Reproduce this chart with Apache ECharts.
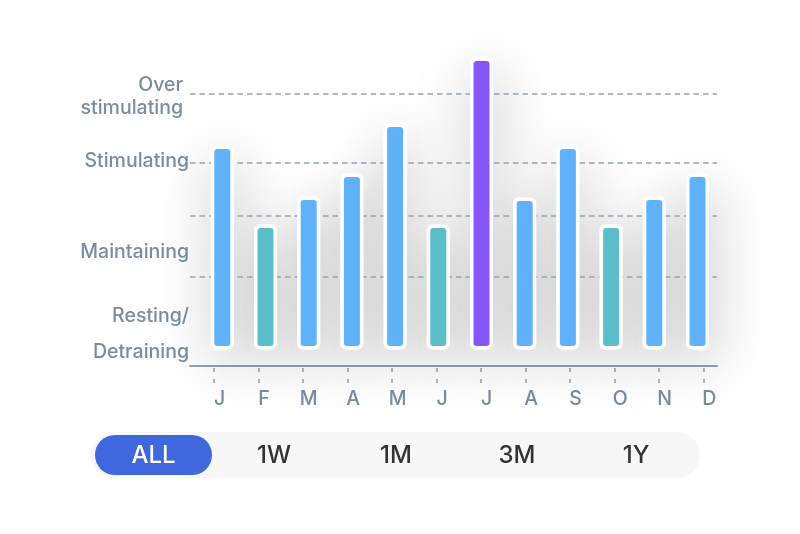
<!DOCTYPE html>
<html>
<head>
<meta charset="utf-8">
<script src="https://cdn.jsdelivr.net/npm/echarts@6/dist/echarts.min.js"></script>
<style>
html,body{margin:0;padding:0;background:#fff;}
#chart{width:800px;height:534px;}
</style>
</head>
<body>
<div id="chart"></div>
<script>
// ---- data ----
var months = ['J','F','M','A','M','J','J','A','S','O','N','D'];
var loadValues = [204, 125, 153, 176, 226, 125, 292, 152, 204, 125, 153, 176];
var levelLines = [255.5, 186.5, 133.5, 72.5];
var levelLabelTexts = ['Over', 'stimulating', 'Stimulating', 'Maintaining', 'Resting/', 'Detraining'];
var levelLabelValues = [264.5, 241.5, 188.5, 97.5, 33, -2.5];
var rangeLabels = ['ALL', '1W', '1M', '3M', '1Y'];

// ---- style ----
var FONT = 'Inter, "Noto Sans", sans-serif';
var TEXT = '#7B8CA2';
var LINE = '#93A4B2';
var BLUE = '#5FB2FA', TEAL = '#5ABFC9', PURPLE = '#8755F5';

function barColor(v){
  if (v > levelLines[0]) return PURPLE;
  if (v < levelLines[2]) return TEAL;
  return BLUE;
}

var chart = echarts.init(document.getElementById('chart'));
var yMin = -16.5, yMax = 301.5;

var rangeX = [153.5, 274, 396, 517, 636];
var graphics = [
  {type:'rect', shape:{x:91, y:432, width:609, height:46, r:23}, style:{fill:'#F7F7F7'}, z:-1},
  {type:'rect', shape:{x:95, y:435, width:117, height:40, r:20}, style:{fill:'#3F68DF'}, z:0}
];
rangeLabels.forEach(function(t, i){
  graphics.push({type:'text', x:rangeX[i], y:456, z:1,
    style:{text:t, fill: i===0 ? '#FFFFFF' : '#333333', font:'500 24px ' + FONT, align:'center', verticalAlign:'middle'}});
});

var option = {
  backgroundColor:'#ffffff',
  animation:false,
  grid:[
    {left:190, right:83, top:48, bottom:168},
    {left:200.7, right:80.9, top:48, bottom:168},
    {left:191.74, right:74.02, top:48, bottom:168}
  ],
  xAxis:[
    {gridIndex:0, type:'category', data:months, axisLine:{show:true, onZero:false, lineStyle:{color:LINE, width:2}},
     axisTick:{show:false}, axisLabel:{show:false}},
    {gridIndex:1, type:'category', data:months, show:false},
    {gridIndex:2, type:'category', data:months, axisLine:{show:false, onZero:false},
     axisTick:{show:true, alignWithLabel:true, length:17, lineStyle:{color:LINE, width:1.5, type:[4,7], dashOffset:9}},
     axisLabel:{show:true, color:TEXT, fontSize:19.5, fontWeight:500, fontFamily:FONT, margin:23, padding:[0,0,0,11]}}
  ],
  yAxis:[
    {gridIndex:0, type:'value', min:yMin, max:yMax, axisLine:{show:false}, axisTick:{show:false}, splitLine:{show:false},
     axisLabel:{show:true, customValues:levelLabelValues, margin:1, color:TEXT, fontSize:19.5, fontWeight:500, fontFamily:FONT,
       formatter:function(v){
         var idx = 0, best = 1e9;
         levelLabelValues.forEach(function(x, i){ var d = Math.abs(x - v); if (d < best){best = d; idx = i;} });
         var t = levelLabelTexts[idx];
         return idx < 2 ? '{s|' + t + '}' : t;
       },
       rich:{s:{color:TEXT, fontSize:19.5, fontWeight:500, fontFamily:FONT, padding:[0,6,0,0]}}
     }},
    {gridIndex:1, type:'value', min:yMin, max:yMax, show:false},
    {gridIndex:2, type:'value', min:yMin, max:yMax, show:false}
  ],
  series:[
    {type:'line', xAxisIndex:0, yAxisIndex:0, data:[], z:1, silent:true,
     markLine:{symbol:'none', silent:true, label:{show:false},
       lineStyle:{color:LINE, width:1.6, type:[5.5,4]},
       data: levelLines.map(function(v){ return {yAxis:v}; })}},
    // soft shadow layer drawn beneath the bars
    {type:'bar', xAxisIndex:1, yAxisIndex:1, z:3, barWidth:23, barGap:'-100%', silent:true,
     data: loadValues,
     itemStyle:{color:'#ffffff', borderRadius:5,
       shadowBlur:55, shadowColor:'rgba(0,0,0,0.28)', shadowOffsetX:4, shadowOffsetY:14}},
    {type:'bar', xAxisIndex:1, yAxisIndex:1, z:5, barWidth:23, barGap:'-100%',
     data: loadValues.map(function(v){
       return {value:v, itemStyle:{color:barColor(v)}};
     }),
     itemStyle:{borderColor:'#ffffff', borderWidth:3.5, borderRadius:5}}
  ],
  graphic: graphics
};
chart.setOption(option);
</script>
</body>
</html>
